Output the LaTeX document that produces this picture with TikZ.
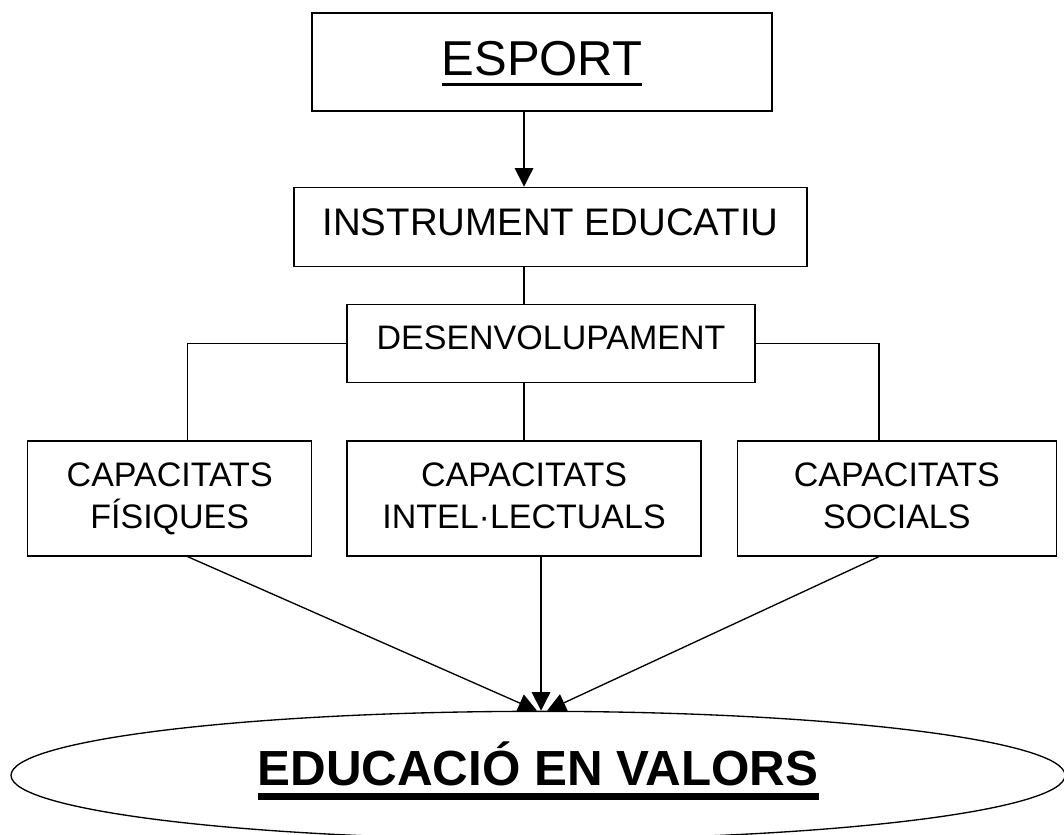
\documentclass[tikz,border=0pt]{standalone}
\usepackage{fontspec}
\setmainfont{Liberation Sans}
\usetikzlibrary{positioning,arrows.meta,shapes.geometric}

\newcommand{\undl}[3]{\setbox0\hbox{#1}\leavevmode\rlap{\rule[-#3]{\wd0}{#2}}\box0}

\tikzset{
  box/.style={draw, rectangle, line width=1pt, inner sep=0pt, align=center},
  smallbox/.style={box, font=\fontsize{25.5pt}{31.5pt}\selectfont},
  capbox/.style={smallbox, minimum height=86.25pt, text height=65.25pt, text depth=21pt},
  goal/.style={draw, ellipse, line width=1pt, inner sep=0pt},
  arr/.style={-{Triangle[length=14pt,width=14pt]}, line width=1pt},
  link/.style={line width=1pt}
}

\begin{document}
\begin{tikzpicture}
\useasboundingbox (0,0) rectangle (798pt,-626.25pt);

\node[box, minimum width=345pt, text height=46.5pt, text depth=27pt,
      font=\fontsize{36.75pt}{44pt}\selectfont] (esport) at (406.5pt,-46.5pt) {\undl{ESPORT}{2.5pt}{8.25pt}};
\node[box, minimum width=384.75pt, text height=36pt, text depth=23.25pt,
      font=\fontsize{28.8pt}{34pt}\selectfont] (instr) [below=56.25pt of esport, xshift=6.375pt] {INSTRUMENT EDUCATIU};
\node[smallbox, minimum width=306pt, text height=33.75pt, text depth=24.75pt] (desenv) [below=27.75pt of instr, xshift=0.4pt] {DESENVOLUPAMENT};

\node[capbox, minimum width=265.5pt] (intel) [below=42.75pt of desenv, xshift=-20.25pt] {CAPACITATS\\INTEL·LECTUALS};
\node[capbox, minimum width=213pt] (fis) [left=25.5pt of intel] {CAPACITATS\\FÍSIQUES};
\node[capbox, minimum width=239.25pt] (soc) [right=26.25pt of intel] {CAPACITATS\\SOCIALS};

\node[goal, minimum width=790.5pt, minimum height=96pt, text height=30pt, text depth=15pt,
      font=\bfseries\fontsize{37pt}{44pt}\selectfont] (val) [below=115.5pt of intel, xshift=10.5pt] {\undl{EDUCACIÓ EN VALORS}{5.25pt}{11.25pt}};

\draw[arr] (esport.south -| intel) -- (instr.north -| intel);
\draw[link] (instr.south -| intel) -- (desenv.north -| intel);
\draw[link] (desenv.south -| intel) -- (intel.north);
\draw[link] (desenv.west) -| ([xshift=13.5pt]fis.north);
\draw[link] (desenv.east) -| ([xshift=-13.5pt]soc.north);

\draw[arr] ([xshift=13.5pt]fis.south) -- ([xshift=-0.75pt]val.north);
\draw[arr] ([xshift=12.75pt]intel.south) -- ([xshift=12.75pt]intel.south |- val.north);
\draw[arr] ([xshift=-13.5pt]soc.south) -- ([xshift=6.75pt]val.north);
\end{tikzpicture}
\end{document}
